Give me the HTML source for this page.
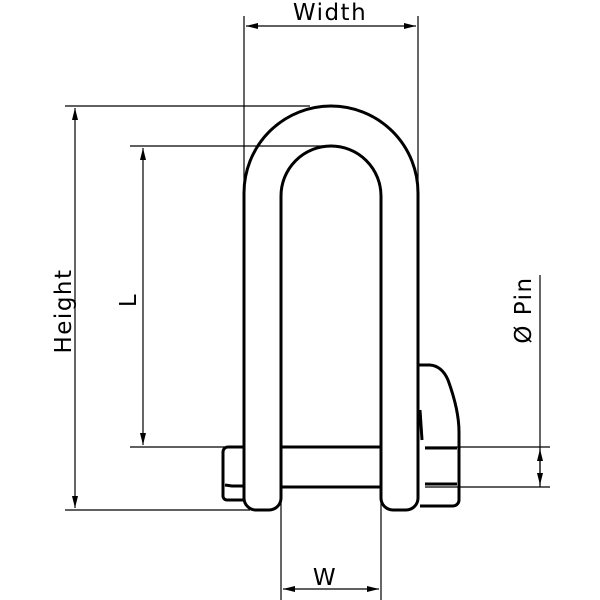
<!DOCTYPE html>
<html><head><style>body{margin:0;background:#fff}svg{display:block}text{font-family:"DejaVu Sans","Liberation Sans",sans-serif;font-size:23px;fill:#000;letter-spacing:1.5px}</style></head>
<body>
<svg width="600" height="600" viewBox="0 0 600 600">
<defs><marker id="a" viewBox="0 0 12 6" refX="12" refY="3" markerWidth="12" markerHeight="6" orient="auto-start-reverse" markerUnits="userSpaceOnUse"><path d="M0,0L12,3L0,6z"/></marker></defs>
<g stroke="#000" stroke-width="1.2" fill="none">
<line x1="244" y1="16" x2="244" y2="200"/><line x1="418" y1="16" x2="418" y2="200"/>
<line x1="246" y1="26" x2="416" y2="26" marker-start="url(#a)" marker-end="url(#a)"/>
<line x1="65" y1="106" x2="310" y2="106"/><line x1="65" y1="510" x2="250" y2="510"/>
<line x1="75" y1="108" x2="75" y2="508" marker-start="url(#a)" marker-end="url(#a)"/>
<line x1="130" y1="146" x2="330" y2="146"/><line x1="130" y1="447" x2="240" y2="447"/>
<line x1="143" y1="148" x2="143" y2="445" marker-start="url(#a)" marker-end="url(#a)"/>
<line x1="425" y1="447" x2="550" y2="447"/><line x1="425" y1="487" x2="550" y2="487"/>
<line x1="540" y1="275" x2="540" y2="487"/>
<line x1="540" y1="449" x2="540" y2="485" marker-start="url(#a)" marker-end="url(#a)"/>
<line x1="281" y1="500" x2="281" y2="600"/><line x1="381" y1="500" x2="381" y2="600"/>
<line x1="283" y1="589" x2="379" y2="589" marker-start="url(#a)" marker-end="url(#a)"/>
</g>
<g stroke="#000" stroke-width="3" fill="none" stroke-linejoin="round">
<path d="M244,498 L244,193 A87,87 0 0 1 418,193 L418,498 A12,12 0 0 1 406,510 L393,510 A12,12 0 0 1 381,498 L381,196 A50,50 0 0 0 281,196 L281,498 A12,12 0 0 1 269,510 L256,510 A12,12 0 0 1 244,498 Z"/>
<line x1="281" y1="447" x2="381" y2="447"/><line x1="281" y1="487" x2="381" y2="487"/>
<path d="M244,447 L228,447 A5,5 0 0 0 223,452 L223,496 A4,4 0 0 0 227,500 L244,500"/>
<path d="M225,485 L232,486 L244,486"/>
<path d="M418,365 L430,365 Q442,366 448,380 Q459,410 459,432 L459,500 A6,6 0 0 1 453,506 L420,506"/>
<path d="M425,448 L457,448 M425,484 L457,484"/>
<path d="M420,410 L422,440"/>
</g>
<text x="330" y="20" text-anchor="middle">Width</text>
<text x="325" y="585" text-anchor="middle">W</text>
<text transform="translate(71,311) rotate(-90)" text-anchor="middle">Height</text>
<text transform="translate(136,300) rotate(-90)" text-anchor="middle">L</text>
<text transform="translate(531,310) rotate(-90)" text-anchor="middle">Ø Pin</text>
</svg>
</body></html>
